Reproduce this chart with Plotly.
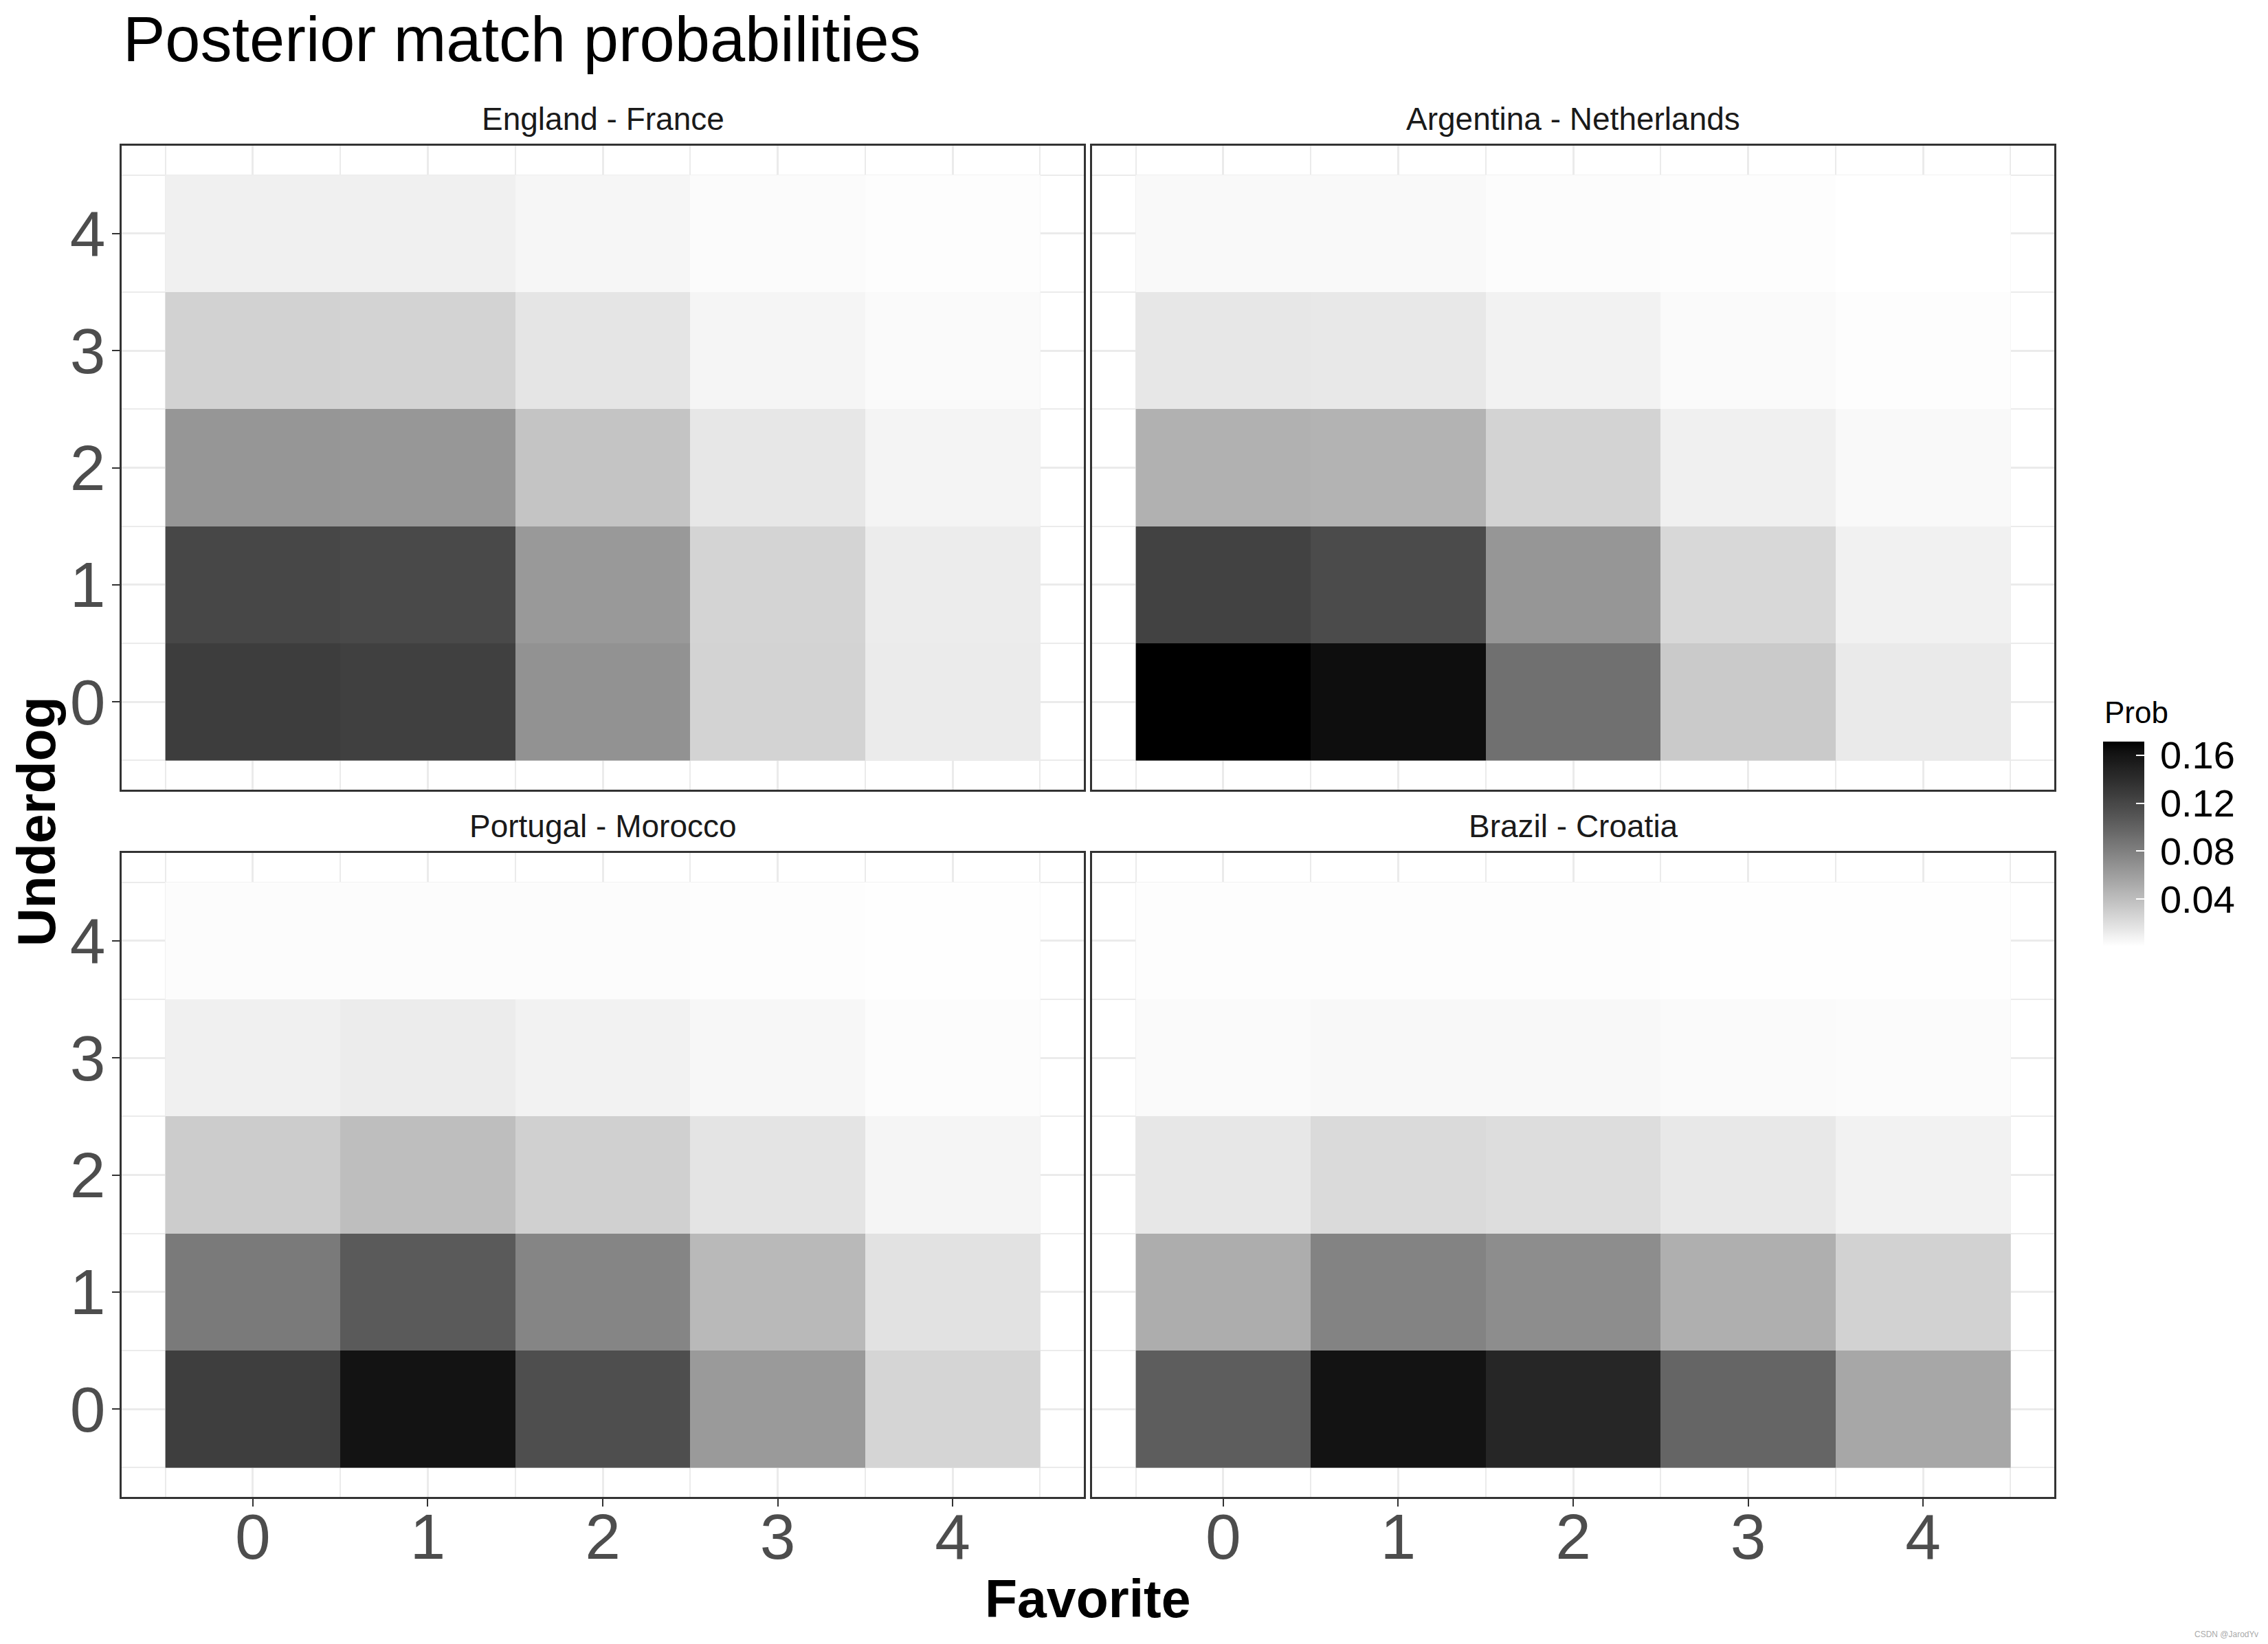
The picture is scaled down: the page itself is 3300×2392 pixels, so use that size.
import plotly.graph_objects as go

# ---------------- data ----------------
favorite_goals = [0, 1, 2, 3, 4]
underdog_goals = [0, 1, 2, 3, 4]
matches = ["England - France", "Argentina - Netherlands", "Portugal - Morocco", "Brazil - Croatia"]

# rows: underdog goals 0..4 ; columns: favorite goals 0..4
prob_england_france = [
    [0.1274, 0.1251, 0.0680, 0.0270, 0.0125],
    [0.1199, 0.1185, 0.0635, 0.0264, 0.0119],
    [0.0654, 0.0647, 0.0362, 0.0149, 0.0071],
    [0.0276, 0.0270, 0.0161, 0.0065, 0.0036],
    [0.0095, 0.0095, 0.0059, 0.0030, 0.0018],
]
prob_argentina_netherlands = [
    [0.1714, 0.1646, 0.0907, 0.0325, 0.0131],
    [0.1236, 0.1170, 0.0654, 0.0239, 0.0089],
    [0.0481, 0.0468, 0.0270, 0.0095, 0.0042],
    [0.0149, 0.0143, 0.0083, 0.0036, 0.0018],
    [0.0042, 0.0042, 0.0024, 0.0018, 0.0006],
]
prob_portugal_morocco = [
    [0.1266, 0.1614, 0.1147, 0.0628, 0.0258],
    [0.0839, 0.1061, 0.0765, 0.0430, 0.0179],
    [0.0313, 0.0399, 0.0288, 0.0167, 0.0065],
    [0.0095, 0.0119, 0.0083, 0.0054, 0.0024],
    [0.0024, 0.0024, 0.0024, 0.0018, 0.0012],
]
prob_brazil_croatia = [
    [0.1039, 0.1614, 0.1456, 0.0983, 0.0544],
    [0.0506, 0.0779, 0.0712, 0.0493, 0.0276],
    [0.0149, 0.0227, 0.0209, 0.0143, 0.0083],
    [0.0036, 0.0048, 0.0048, 0.0036, 0.0030],
    [0.0018, 0.0018, 0.0018, 0.0012, 0.0012],
]
panel_probs = [prob_england_france, prob_argentina_netherlands,
               prob_portugal_morocco, prob_brazil_croatia]
colorbar_ticks = [0.04, 0.08, 0.12, 0.16]

# ---------------- style ----------------
W, H = 3300, 2392
FONT = "Liberation Sans, Arial, sans-serif"


def px_x(p):
    return p / W


def px_y(p):
    return 1 - p / H


# white -> black gradient interpolated in Lab (as ggplot's scale_fill_gradient)
def lab_grey(t):
    L = 100.0 * (1 - t)
    fy = (L + 16) / 116
    Y = fy ** 3 if fy ** 3 > 0.008856 else L / 903.3
    s = 12.92 * Y if Y <= 0.0031308 else 1.055 * Y ** (1 / 2.4) - 0.055
    g = max(0, min(255, round(255 * s)))
    return f"rgb({g},{g},{g})"


n_stops = 41
colorscale = [[i / (n_stops - 1), lab_grey(i / (n_stops - 1))] for i in range(n_stops)]

all_vals = [v for panel in panel_probs for row in panel for v in row]
zmin, zmax = min(all_vals), max(all_vals)

# panel pixel boxes: (left, right, top, bottom)
boxes = [
    (177, 1577, 212, 1149),
    (1589, 2989, 212, 1149),
    (177, 1577, 1241, 2178),
    (1589, 2989, 1241, 2178),
]
strip_y = [173, 173, 1202, 1202]

fig = go.Figure()
layout_axes = {}
annotations = []

for i, (name, z, box) in enumerate(zip(matches, panel_probs, boxes)):
    k = "" if i == 0 else str(i + 1)
    fig.add_trace(go.Heatmap(
        x=favorite_goals, y=underdog_goals, z=z,
        coloraxis="coloraxis", xaxis="x" + k, yaxis="y" + k,
        zsmooth=False, showscale=False,
    ))
    l, r, t, b = box
    bottom_row = i >= 2
    left_col = i % 2 == 0
    common = dict(
        range=[-0.75, 4.75], tickmode="array", tickvals=[0, 1, 2, 3, 4],
        showgrid=True, gridcolor="#ebebeb", gridwidth=3,
        minor=dict(tickmode="array", tickvals=[-0.5, 0.5, 1.5, 2.5, 3.5, 4.5],
                   showgrid=True, gridcolor="#ebebeb", gridwidth=1.5),
        zeroline=False, showline=True, mirror=True, linecolor="#333333", linewidth=3,
        tickfont=dict(family=FONT, size=93, color="#4d4d4d"),
        fixedrange=True,
    )
    layout_axes["xaxis" + k] = dict(
        common, domain=[px_x(l), px_x(r)], anchor="y" + k,
        ticks="outside" if bottom_row else "", ticklen=11, tickwidth=2, tickcolor="#333333",
        showticklabels=bottom_row, ticklabelstandoff=-36,
    )
    layout_axes["yaxis" + k] = dict(
        common, domain=[px_y(b), px_y(t)], anchor="x" + k,
        ticks="outside" if left_col else "", ticklen=11, tickwidth=2, tickcolor="#333333",
        showticklabels=left_col, ticklabelstandoff=-9,
    )
    annotations.append(dict(
        text=name, x=px_x((l + r) / 2), y=px_y(strip_y[i]), xref="paper", yref="paper",
        xanchor="center", yanchor="middle", showarrow=False,
        font=dict(family=FONT, size=46, color="#1a1a1a"),
    ))

annotations += [
    dict(text="Posterior match probabilities", x=px_x(177), y=px_y(57),
         xref="paper", yref="paper", xanchor="left", yanchor="middle", showarrow=False,
         font=dict(family=FONT, size=92, color="black")),
    dict(text="<b>Favorite</b>", x=px_x(1583), y=px_y(2326),
         xref="paper", yref="paper", xanchor="center", yanchor="middle", showarrow=False,
         font=dict(family=FONT, size=77, color="black")),
    dict(text="<b>Underdog</b>", x=px_x(53), y=px_y(1195), textangle=-90,
         xref="paper", yref="paper", xanchor="center", yanchor="middle", showarrow=False,
         font=dict(family=FONT, size=77, color="black")),
    dict(text="Prob", x=px_x(3060), y=px_y(1036),
         xref="paper", yref="paper", xanchor="left", yanchor="middle", showarrow=False,
         font=dict(family=FONT, size=44, color="black")),
    dict(text="CSDN @JarodYv", x=px_x(3288), y=px_y(2378),
         xref="paper", yref="paper", xanchor="right", yanchor="middle", showarrow=False,
         font=dict(family=FONT, size=12, color="#aaaaaa")),
]

fig.update_layout(
    width=W, height=H,
    margin=dict(l=0, r=0, t=0, b=0),
    paper_bgcolor="white", plot_bgcolor="white",
    showlegend=False,
    coloraxis=dict(
        colorscale=colorscale, cmin=zmin, cmax=zmax,
        colorbar=dict(
            x=px_x(3060), xanchor="left", xpad=0,
            y=px_y(1228), yanchor="middle", ypad=0,
            thickness=60, thicknessmode="pixels",
            len=298, lenmode="pixels",
            outlinewidth=0,
            tickmode="array", tickvals=colorbar_ticks,
            ticktext=["\u2009" + f"{v:.2f}" for v in colorbar_ticks],
            ticks="inside", ticklen=12, tickwidth=2, tickcolor="white",
            tickfont=dict(family=FONT, size=56, color="black"),
        ),
    ),
    annotations=annotations,
    **layout_axes,
)

fig.write_html("out.html")
